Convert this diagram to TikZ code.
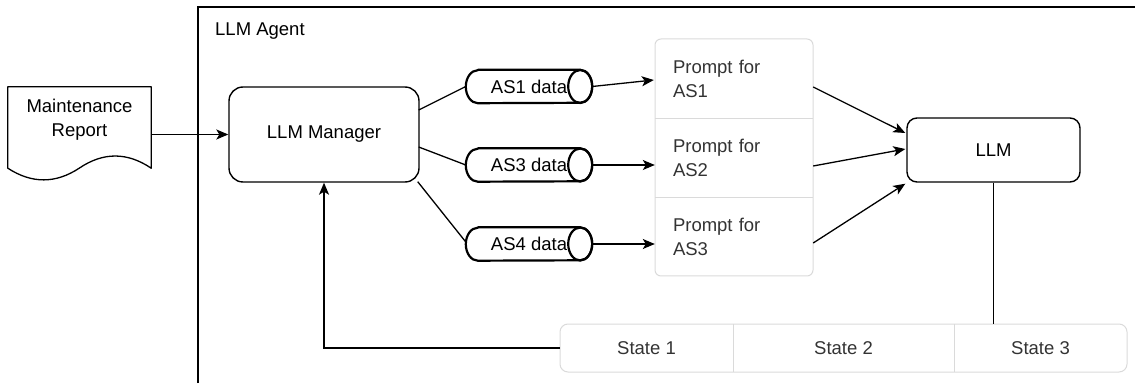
\documentclass[tikz,border=0pt]{standalone}
\usepackage{fontspec}
\setmainfont{Liberation Sans}
\usetikzlibrary{arrows.meta,calc}
\definecolor{paleline}{HTML}{DADADA}
\definecolor{softtext}{HTML}{333333}

\begin{document}
\begin{tikzpicture}[x=1pt,y=1pt,
  every node/.style={font=\fontsize{18.5}{24}\selectfont, inner sep=0pt},
  procbox/.style={draw=black, line width=1.4pt, rounded corners=14pt},
  link/.style={draw=black, line width=1.3pt},
  arrowlink/.style={link, -{Stealth[length=12pt,width=10pt,inset=3pt]}},
  cylline/.style={draw=black, line width=2.2pt, line join=round},
  datacyl/.style={minimum width=126pt, minimum height=33pt},
  pale/.style={draw=paleline, line width=1pt},
  promptcell/.style={text=softtext, align=left, text width=122pt, inner xsep=18pt,
                     minimum height=79pt},
  statecell/.style={text=softtext, minimum height=48pt},
]
\useasboundingbox (0,0) rectangle (1135,383);

% agent frame, open towards the right and bottom edges
\draw[line width=1.4pt] (198,0) -- (198,376) -- (1135,376);
\node[anchor=west] (agentlabel) at (215,352) {LLM Agent};

% maintenance report (document shape with wavy bottom)
\node[minimum width=143pt, minimum height=81pt] (doc) at (79.5,255.5) {};
\draw[line width=1.3pt, line join=round]
  (doc.north west) -- (doc.north east) -- (doc.south east)
  .. controls (127.2,231) and (103.3,231) .. (79.5,215)
  .. controls (55.7,199.2) and (31.8,199.2) .. (doc.south west) -- cycle;
\node[align=center] (doctext) at (79.5,263) {Maintenance\\Report};

% manager
\node[procbox, minimum width=190pt, minimum height=95pt] (mgr) at (324,248.5) {LLM Manager};

% data cylinders
\node[datacyl] (c1) at (529,296.5) {AS1 data};
\node[datacyl] (c3) at (529,218) {AS3 data};
\node[datacyl] (c4) at (529,139) {AS4 data};
\foreach \c in {c1,c3,c4} {
  \draw[cylline] ($(\c.north west)+(12,0)$) -- ($(\c.north east)+(-12,0)$)
    arc[start angle=90, end angle=-90, x radius=12pt, y radius=16.5pt]
    -- ($(\c.south west)+(12,0)$)
    arc[start angle=270, end angle=90, x radius=12pt, y radius=16.5pt] -- cycle;
  \draw[cylline] ($(\c.east)+(-12,0)$) ellipse[x radius=12pt, y radius=16.5pt];
}

% prompt stack
\node[pale, rounded corners=6pt, minimum width=158pt, minimum height=237pt] (prompts) at (734,225.5) {};
\node[promptcell] (p1) at (734,304.5) {Prompt for\\AS1};
\node[promptcell] (p2) at (734,225.5) {Prompt for\\AS2};
\node[promptcell] (p3) at (734,146.5) {Prompt for\\AS3};
\draw[pale] (p1.south west) -- (p1.south east);
\draw[pale] (p2.south west) -- (p2.south east);

% model
\node[procbox, rounded corners=10pt, minimum width=173pt, minimum height=64pt] (llm) at (993.5,233) {LLM};

% state bar
\node[pale, rounded corners=8pt, minimum width=567pt, minimum height=48pt] (states) at (843.5,35) {};
\node[statecell, minimum width=173pt] (s1) at (646.5,35) {State 1};
\node[statecell, minimum width=221pt] (s2) at (843.5,35) {State 2};
\node[statecell, minimum width=173pt] (s3) at (1040.5,35) {State 3};
\draw[pale] (s1.north east) -- (s1.south east);
\draw[pale] (s2.north east) -- (s2.south east);

% connectors
\draw[arrowlink] (doc.east |- mgr.west) -- (mgr.west);

\draw[link] ($(mgr.east)+(-1,24.5)$) -- (c1.west);
\draw[link] ($(mgr.east)+(-1,-12.5)$) -- (c3.west);
\draw[link] ($(mgr.south east)+(-2,1)$) -- ($(c4.west)+(0,2)$);

\draw[arrowlink] (c1.east) -- ($(p1.west)+(-1,-1.5)$);
\draw[arrowlink] (c3.east) -- (c3.east -| p2.west);
\draw[arrowlink] (c4.east) -- (c4.east -| p3.west);

\draw[arrowlink] ($(p1.east)+(0,-8.5)$) -- ($(llm.west)+(-1,17)$);
\draw[arrowlink] ($(p2.east)+(0,-8.5)$) -- ($(llm.west)+(-1,1)$);
\draw[arrowlink] ($(p3.east)+(0,-6.5)$) -- ($(llm.south west)+(-1,-1)$);

\draw[link] (llm.south) -- (llm.south |- states.north);
\draw[arrowlink] (states.west) -- (states.west -| mgr.south) -- (mgr.south);
\end{tikzpicture}
\end{document}
